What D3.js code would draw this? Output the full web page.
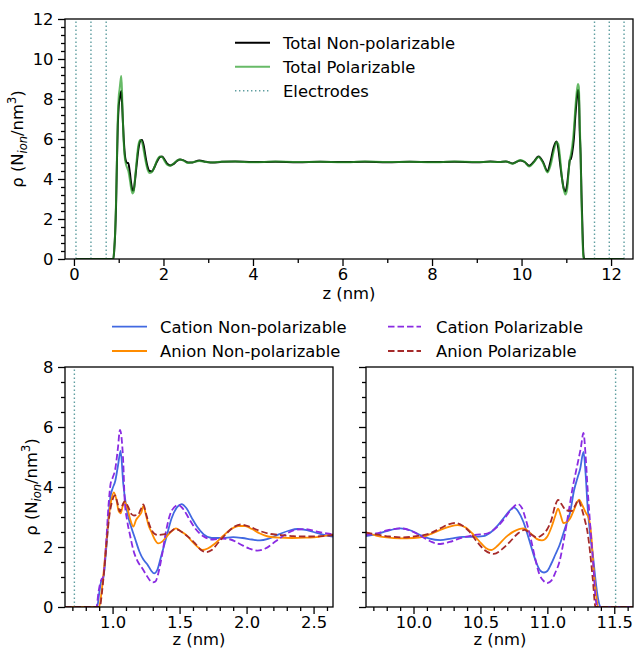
<!DOCTYPE html>
<html>
<head>
<meta charset="utf-8">
<script src="https://cdn.jsdelivr.net/npm/d3@7"></script>
<style>
  body { margin: 0; background: #fff; }
  svg text { font-family: "DejaVu Sans", sans-serif; fill: #000; }
</style>
</head>
<body>
<svg id="chart" width="634" height="650"></svg>
<script>
// ---------- Data: number density profiles across the cell (z in nm) ----------

// Full-cell total ion density
const zTop = [0.05, 0.88, 0.9, 0.92, 0.94, 0.96, 0.98, 1.0, 1.02, 1.04, 1.058, 1.075, 1.09, 1.11, 1.13, 1.155,
  1.19, 1.215, 1.25, 1.28, 1.31, 1.335, 1.36, 1.40, 1.44, 1.48, 1.52, 1.56, 1.60, 1.64, 1.69, 1.74, 1.79,
  1.85, 1.92, 1.97, 2.03, 2.09, 2.15, 2.22, 2.30, 2.37, 2.45, 2.55, 2.65, 2.8, 2.95, 3.1, 3.3, 3.6, 4.0,
  4.5, 5.0, 5.5, 6.0, 6.5, 7.0, 7.5, 8.0, 8.5, 9.0, 9.3, 9.5, 9.65, 9.8, 9.97, 10.07, 10.17, 10.27, 10.38,
  10.48, 10.58, 10.65, 10.72, 10.78, 10.82, 10.86, 10.9, 10.94, 10.98, 11.02, 11.05, 11.08, 11.1, 11.13,
  11.17, 11.2, 11.23, 11.26, 11.28, 11.3, 11.32, 11.34, 11.36, 11.38, 11.4, 12.29];
const totalNonPol = [0, 0, 0.45, 1.25, 2.6, 4.8, 6.7, 7.65, 8.0, 8.25, 8.4, 7.8, 7.05, 6.1, 5.4, 4.95,
  4.8, 4.8, 4.3, 3.75, 3.42, 3.45, 3.85, 4.7, 5.5, 5.9, 5.95, 5.65, 5.1, 4.65, 4.4, 4.38, 4.55,
  4.85, 5.1, 5.12, 4.95, 4.75, 4.68, 4.74, 4.9, 4.98, 4.93, 4.82, 4.83, 4.93, 4.86, 4.82, 4.86, 4.88, 4.85,
  4.86, 4.84, 4.86, 4.85, 4.86, 4.84, 4.86, 4.85, 4.86, 4.84, 4.87, 4.85, 4.88, 4.78, 4.93, 4.85, 4.66, 4.85, 5.12,
  4.85, 4.38, 4.9, 5.6, 5.88, 5.55, 4.8, 4.1, 3.55, 3.38, 3.75, 4.4, 4.95, 5.0, 5.3,
  6.05, 7.1, 7.9, 8.45, 8.2, 6.4, 5.2, 3.2, 1.6, 0.3, 0, 0];
const totalPol = [0, 0, 0.5, 1.3, 2.8, 5.0, 7.1, 8.1, 8.5, 8.9, 9.15, 8.3, 7.1, 5.9, 5.2, 4.8,
  4.55, 4.4, 3.95, 3.5, 3.28, 3.35, 3.9, 4.9, 5.7, 5.95, 5.85, 5.4, 4.9, 4.5, 4.3, 4.35, 4.55,
  4.9, 5.12, 5.1, 4.88, 4.7, 4.66, 4.76, 4.92, 4.98, 4.92, 4.8, 4.84, 4.9, 4.85, 4.83, 4.86, 4.87, 4.84,
  4.87, 4.85, 4.86, 4.84, 4.87, 4.85, 4.86, 4.84, 4.87, 4.85, 4.86, 4.85, 4.87, 4.76, 4.95, 4.86, 4.62, 4.82, 5.1,
  4.8, 4.33, 4.7, 5.4, 5.85, 5.75, 5.1, 4.1, 3.5, 3.22, 3.5, 4.3, 5.0, 5.2, 5.6,
  6.5, 7.5, 8.3, 8.75, 8.6, 6.9, 5.1, 2.9, 1.2, 0.1, 0, 0];

// Electrode planes
const electrodesTop = [0.045, 0.38, 0.72, 11.63, 11.96, 12.29];
const electrodeLeft = [0.715];
const electrodeRight = [11.51];

// Near-wall profiles, left electrode: [z, density]
const cationNonPolLeft = [[0.645,0],[0.885,0],[0.9,0.45],[0.915,0.85],[0.93,0.95],[0.95,1.8],[0.97,3.0],[0.985,3.7],
  [1.0,3.95],[1.02,4.2],[1.04,4.7],[1.06,5.2],[1.08,4.1],[1.1,3.4],[1.12,2.95],[1.14,2.65],[1.17,2.25],[1.2,1.85],
  [1.23,1.58],[1.26,1.42],[1.29,1.2],[1.31,1.12],[1.335,1.25],[1.36,1.65],[1.40,2.3],[1.44,2.95],[1.48,3.32],
  [1.515,3.43],[1.55,3.3],[1.59,2.98],[1.63,2.68],[1.68,2.42],[1.74,2.3],[1.82,2.3],[1.9,2.33],[1.97,2.3],
  [2.04,2.25],[2.1,2.22],[2.16,2.27],[2.24,2.42],[2.32,2.55],[2.38,2.6],[2.45,2.56],[2.53,2.46],[2.6,2.38],[2.645,2.35]];
const anionNonPolLeft = [[0.645,0],[0.9,0],[0.915,0.4],[0.93,1.0],[0.95,2.0],[0.97,2.95],[0.99,3.55],[1.01,3.82],
  [1.03,3.55],[1.045,3.2],[1.06,3.12],[1.075,3.35],[1.09,3.5],[1.11,3.3],[1.13,2.95],[1.155,2.68],[1.175,2.9],
  [1.2,3.05],[1.215,3.15],[1.23,3.37],[1.25,3.05],[1.27,2.7],[1.29,2.5],[1.315,2.25],[1.34,2.12],[1.37,2.18],
  [1.40,2.33],[1.44,2.52],[1.473,2.62],[1.51,2.52],[1.55,2.4],[1.59,2.2],[1.63,2.02],[1.67,1.9],[1.71,1.95],
  [1.76,2.1],[1.82,2.35],[1.88,2.58],[1.94,2.7],[1.99,2.7],[2.04,2.6],[2.1,2.45],[2.16,2.35],[2.24,2.31],
  [2.34,2.3],[2.44,2.31],[2.54,2.34],[2.645,2.42]];
const cationPolLeft = [[0.645,0],[0.88,0],[0.895,0.5],[0.915,0.9],[0.93,1.0],[0.95,2.0],[0.97,3.4],[0.985,4.1],
  [1.0,4.3],[1.02,4.6],[1.04,5.3],[1.055,5.9],[1.07,5.5],[1.08,4.8],[1.09,3.6],[1.11,2.85],[1.13,2.4],[1.155,1.9],
  [1.19,1.5],[1.22,1.3],[1.25,1.08],[1.28,0.88],[1.3,0.82],[1.32,0.85],[1.34,1.1],[1.37,1.75],[1.4,2.55],
  [1.44,3.2],[1.49,3.4],[1.53,3.25],[1.57,2.95],[1.62,2.6],[1.68,2.35],[1.75,2.25],[1.82,2.28],[1.88,2.25],
  [1.95,2.1],[2.02,1.95],[2.08,1.88],[2.14,1.95],[2.22,2.2],[2.3,2.45],[2.37,2.58],[2.44,2.6],[2.52,2.52],
  [2.6,2.45],[2.645,2.42]];
const anionPolLeft = [[0.645,0],[0.905,0],[0.92,0.45],[0.935,1.1],[0.955,2.1],[0.975,3.0],[0.995,3.5],[1.018,3.72],
  [1.035,3.5],[1.055,3.18],[1.07,3.35],[1.09,3.52],[1.115,3.35],[1.14,3.1],[1.16,3.05],[1.19,3.08],[1.21,3.25],
  [1.23,3.42],[1.25,3.1],[1.28,2.68],[1.31,2.45],[1.34,2.4],[1.38,2.42],[1.42,2.47],[1.466,2.6],[1.5,2.55],
  [1.54,2.42],[1.58,2.28],[1.62,2.1],[1.66,1.9],[1.7,1.83],[1.74,1.9],[1.79,2.15],[1.85,2.45],[1.91,2.68],
  [1.96,2.75],[2.02,2.68],[2.09,2.55],[2.16,2.45],[2.25,2.4],[2.35,2.36],[2.45,2.35],[2.55,2.36],[2.645,2.4]];

// Near-wall profiles, right electrode: [z, density]
const cationNonPolRight = [[9.643,2.36],[9.72,2.42],[9.8,2.53],[9.9,2.62],[9.98,2.55],[10.05,2.4],[10.12,2.28],
  [10.2,2.23],[10.28,2.28],[10.37,2.34],[10.45,2.34],[10.52,2.36],[10.58,2.5],[10.63,2.72],[10.68,3.0],[10.72,3.22],
  [10.75,3.32],[10.78,3.2],[10.82,2.85],[10.86,2.3],[10.89,1.85],[10.92,1.45],[10.95,1.2],[10.975,1.15],[11.0,1.2],
  [11.03,1.45],[11.06,1.75],[11.09,2.05],[11.13,2.6],[11.17,3.15],[11.2,3.9],[11.225,4.3],[11.245,4.6],[11.27,5.17],
  [11.285,4.5],[11.3,3.4],[11.32,2.4],[11.34,1.75],[11.36,0.9],[11.38,0.25],[11.4,0],[11.643,0]];
const anionNonPolRight = [[9.643,2.5],[9.72,2.38],[9.8,2.32],[9.9,2.29],[10.0,2.3],[10.07,2.34],[10.14,2.45],
  [10.2,2.57],[10.27,2.68],[10.33,2.73],[10.39,2.65],[10.44,2.45],[10.49,2.2],[10.54,1.97],[10.58,1.9],[10.63,2.05],
  [10.69,2.33],[10.75,2.52],[10.82,2.62],[10.87,2.48],[10.92,2.27],[10.96,2.22],[11.0,2.35],[11.03,2.65],[11.06,3.05],
  [11.08,3.28],[11.1,3.05],[11.12,2.8],[11.14,2.82],[11.17,2.95],[11.2,3.25],[11.237,3.58],[11.26,3.4],[11.29,3.12],
  [11.31,2.95],[11.33,2.3],[11.345,1.3],[11.36,0.6],[11.38,0],[11.643,0]];
const cationPolRight = [[9.643,2.4],[9.72,2.45],[9.8,2.55],[9.91,2.62],[10.0,2.5],[10.08,2.3],[10.14,2.16],
  [10.2,2.1],[10.27,2.17],[10.37,2.32],[10.46,2.4],[10.55,2.45],[10.62,2.65],[10.68,2.95],[10.73,3.25],[10.78,3.43],
  [10.81,3.3],[10.84,2.9],[10.88,2.2],[10.91,1.6],[10.94,1.1],[10.97,0.88],[11.0,0.8],[11.03,0.88],[11.06,1.15],
  [11.09,1.5],[11.13,2.4],[11.16,3.2],[11.19,4.0],[11.22,4.65],[11.25,5.3],[11.27,5.8],[11.285,5.1],[11.3,4.0],
  [11.325,2.45],[11.345,1.3],[11.36,0.3],[11.375,0],[11.643,0]];
const anionPolRight = [[9.643,2.48],[9.72,2.42],[9.82,2.35],[9.92,2.32],[10.02,2.36],[10.12,2.45],[10.2,2.62],
  [10.26,2.75],[10.31,2.8],[10.37,2.7],[10.42,2.5],[10.47,2.2],[10.53,1.9],[10.6,1.77],[10.66,1.92],[10.72,2.17],
  [10.78,2.45],[10.83,2.57],[10.88,2.42],[10.92,2.32],[10.96,2.4],[11.0,2.6],[11.03,2.9],[11.06,3.4],[11.08,3.57],
  [11.11,3.4],[11.14,3.22],[11.18,3.2],[11.21,3.4],[11.23,3.57],[11.255,3.3],[11.28,2.9],[11.3,2.5],[11.32,1.8],
  [11.34,0.9],[11.36,0],[11.643,0]];

// Tick values
const topXTicks = [0, 2, 4, 6, 8, 10, 12];
const topYTicks = [0, 2, 4, 6, 8, 10, 12];
const leftXTicks = [1.0, 1.5, 2.0, 2.5];
const rightXTicks = [10.0, 10.5, 11.0, 11.5];
const bottomYTicks = [0, 2, 4, 6, 8];

// Series labels
const topSeries = ["Total Non-polarizable", "Total Polarizable", "Electrodes"];
const ionSeries = ["Cation Non-polarizable", "Anion Non-polarizable", "Cation Polarizable", "Anion Polarizable"];

// ---------- Styles ----------
const FS = 16.4;
const ELECTRODE_COLOR = "#5f9ea0";
const ionStyles = [
  { color: "#4169e1", dash: null },
  { color: "#ff8c00", dash: null },
  { color: "#8a2be2", dash: "6.5,3" },
  { color: "#a52a2a", dash: "6.5,3" }
];

const svg = d3.select("#chart");

function rangeStep(a, b, s) {
  const out = [];
  for (let v = a; v <= b + 1e-9; v += s) out.push(+v.toFixed(4));
  return out;
}

function makePanel(o) {
  const g = svg.append("g").attr("transform", `translate(${o.left},${o.top})`);
  const x = d3.scaleLinear().domain(o.xDomain).range([0, o.width]);
  const y = d3.scaleLinear().domain(o.yDomain).range([o.height, 0]);
  const clipId = "clip-" + o.id;
  svg.append("defs").append("clipPath").attr("id", clipId)
    .append("rect").attr("width", o.width).attr("height", o.height);
  const plot = g.append("g").attr("clip-path", `url(#${clipId})`);

  const xMinorAxis = d3.axisBottom(x).tickValues(o.xMinor).tickSize(4).tickFormat("");
  const yMinorAxis = d3.axisLeft(y).tickValues(o.yMinor).tickSize(4).tickFormat("");
  const xMajorAxis = d3.axisBottom(x).tickValues(o.xMajor).tickSize(7).tickPadding(2).tickFormat(o.xFormat);
  const yMajorAxis = d3.axisLeft(y).tickValues(o.yMajor).tickSize(7).tickPadding(4.5)
    .tickFormat(o.showY ? o.yFormat : "");
  [
    g.append("g").attr("transform", `translate(0,${o.height})`).call(xMinorAxis),
    g.append("g").call(yMinorAxis),
    g.append("g").attr("transform", `translate(0,${o.height})`).call(xMajorAxis),
    g.append("g").call(yMajorAxis)
  ].forEach(a => {
    a.select(".domain").remove();
    a.selectAll("line").attr("stroke", "#000").attr("stroke-width", 1.3);
    a.selectAll("text").attr("font-family", "DejaVu Sans, sans-serif").attr("font-size", FS).attr("fill", "#000");
    a.attr("font-family", null).attr("font-size", null);
  });

  return { g, plot, x, y, width: o.width, height: o.height };
}

function frame(p) {
  p.g.append("rect").attr("width", p.width).attr("height", p.height)
    .attr("fill", "none").attr("stroke", "#000").attr("stroke-width", 1.3);
}

function electrodeLines(p, zs) {
  p.plot.selectAll(null).data(zs).enter().append("line")
    .attr("x1", d => p.x(d)).attr("x2", d => p.x(d))
    .attr("y1", p.y(p.y.domain()[0])).attr("y2", p.y(p.y.domain()[1]))
    .attr("stroke", ELECTRODE_COLOR).attr("stroke-width", 1.4)
    .attr("stroke-dasharray", "1.4,2.6");
}

function yLabel(cx, cy) {
  const t = svg.append("text")
    .attr("transform", `translate(${cx},${cy}) rotate(-90)`)
    .attr("text-anchor", "middle").attr("font-size", FS);
  t.append("tspan").text("ρ (N");
  t.append("tspan").attr("font-size", FS * 0.7).attr("font-style", "italic").attr("dy", 3.5).text("ion");
  t.append("tspan").attr("dy", -3.5).text("/nm");
  t.append("tspan").attr("font-size", FS * 0.7).attr("dy", -7).text("3");
  t.append("tspan").attr("dy", 7).text(")");
}

function xLabel(cx, baseline) {
  svg.append("text").attr("x", cx).attr("y", baseline).attr("text-anchor", "middle")
    .attr("font-size", FS).text("z (nm)");
}

// ---------- Top panel: total densities ----------
const totalPanel = makePanel({
  id: "total", left: 65, top: 19, width: 568, height: 240,
  xDomain: [-0.2, 12.49], yDomain: [0, 12],
  xMajor: topXTicks, xMinor: [1, 3, 5, 7, 9, 11],
  yMajor: topYTicks, yMinor: rangeStep(0, 12, 0.4).filter(v => Math.abs(v / 2 - Math.round(v / 2)) > 1e-6),
  xFormat: d3.format("d"), yFormat: d3.format("d"), showY: true
});

electrodeLines(totalPanel, electrodesTop);

const lineTotal = d3.line().curve(d3.curveMonotoneX)
  .x(d => totalPanel.x(d[0])).y(d => totalPanel.y(d[1]));
const npPts = zTop.map((z, i) => [z, totalNonPol[i]]);
const pPts = zTop.map((z, i) => [z, totalPol[i]]);
totalPanel.plot.append("path").attr("d", lineTotal(npPts)).attr("fill", "none")
  .attr("stroke", "#000").attr("stroke-width", 2);
totalPanel.plot.append("path").attr("d", lineTotal(pPts)).attr("fill", "none")
  .attr("stroke", "#2ca02c").attr("stroke-opacity", 0.72).attr("stroke-width", 2);
frame(totalPanel);

// legend for totals
const totalLegend = svg.append("g");
const totalLegendStyles = [
  { color: "#000", opacity: 1, dash: null, width: 2 },
  { color: "#2ca02c", opacity: 0.72, dash: null, width: 2 },
  { color: ELECTRODE_COLOR, opacity: 1, dash: "1.4,2.6", width: 1.4 }
];
topSeries.forEach((name, i) => {
  const yy = 42.7 + i * 24;
  const s = totalLegendStyles[i];
  totalLegend.append("line").attr("x1", 235).attr("x2", 270).attr("y1", yy).attr("y2", yy)
    .attr("stroke", s.color).attr("stroke-opacity", s.opacity).attr("stroke-width", s.width)
    .attr("stroke-dasharray", s.dash);
  totalLegend.append("text").attr("x", 283).attr("y", yy).attr("dy", "0.36em")
    .attr("font-size", FS).text(name);
});

yLabel(23, 139);
xLabel(349, 299);

// ---------- Bottom panels: per-ion densities near each electrode ----------
const leftPanel = makePanel({
  id: "left", left: 65, top: 367, width: 268, height: 240,
  xDomain: [0.645, 2.645], yDomain: [0, 8],
  xMajor: leftXTicks, xMinor: rangeStep(0.7, 2.6, 0.1).filter(v => !leftXTicks.some(t => Math.abs(t - v) < 1e-6)),
  yMajor: bottomYTicks, yMinor: rangeStep(0, 8, 0.5).filter(v => v % 2 !== 0),
  xFormat: d3.format(".1f"), yFormat: d3.format("d"), showY: true
});
const rightPanel = makePanel({
  id: "right", left: 366, top: 367, width: 267, height: 240,
  xDomain: [9.645, 11.64], yDomain: [0, 8],
  xMajor: rightXTicks, xMinor: rangeStep(9.7, 11.6, 0.1).filter(v => !rightXTicks.some(t => Math.abs(t - v) < 1e-6)),
  yMajor: bottomYTicks, yMinor: rangeStep(0, 8, 0.5).filter(v => v % 2 !== 0),
  xFormat: d3.format(".1f"), yFormat: d3.format("d"), showY: false
});

electrodeLines(leftPanel, electrodeLeft);
electrodeLines(rightPanel, electrodeRight);

function drawIons(p, seriesList) {
  const ln = d3.line().curve(d3.curveMonotoneX).x(d => p.x(d[0])).y(d => p.y(d[1]));
  seriesList.forEach((pts, i) => {
    p.plot.append("path").attr("d", ln(pts)).attr("fill", "none")
      .attr("stroke", ionStyles[i].color).attr("stroke-width", 1.8)
      .attr("stroke-dasharray", ionStyles[i].dash);
  });
  frame(p);
}
drawIons(leftPanel, [cationNonPolLeft, anionNonPolLeft, cationPolLeft, anionPolLeft]);
drawIons(rightPanel, [cationNonPolRight, anionNonPolRight, cationPolRight, anionPolRight]);

// legend for ions (two columns)
const ionLegend = svg.append("g");
const legendCols = [{ x1: 112, x2: 147, tx: 160 }, { x1: 388, x2: 421, tx: 436 }];
ionSeries.forEach((name, i) => {
  const col = legendCols[Math.floor(i / 2)];
  const yy = 326.7 + (i % 2) * 24.3;
  ionLegend.append("line").attr("x1", col.x1).attr("x2", col.x2).attr("y1", yy).attr("y2", yy)
    .attr("stroke", ionStyles[i].color).attr("stroke-width", 1.8)
    .attr("stroke-dasharray", ionStyles[i].dash);
  ionLegend.append("text").attr("x", col.tx).attr("y", yy).attr("dy", "0.36em")
    .attr("font-size", FS).text(name);
});

yLabel(37, 487);
xLabel(199, 645);
xLabel(500, 645);
</script>
</body>
</html>
